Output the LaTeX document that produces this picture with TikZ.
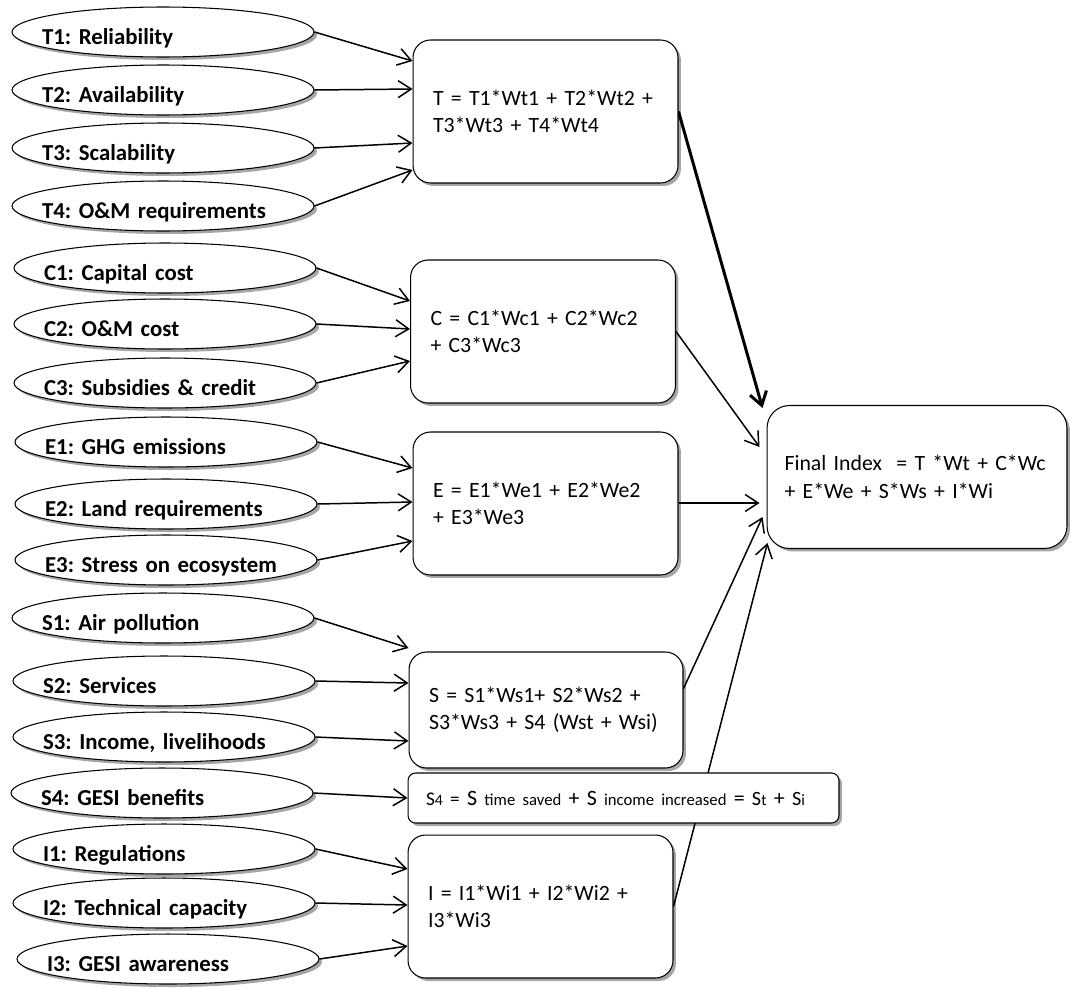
\documentclass[tikz,border=0pt]{standalone}
\usepackage{fontspec}
\setmainfont[WordSpace=0.8]{Carlito}
\usepackage{tikz}
\usetikzlibrary{shapes.geometric}
\usetikzlibrary{shadows}
\usetikzlibrary{calc}
\usetikzlibrary{arrows.meta}
\usetikzlibrary{backgrounds}
\newcommand\fsz[1]{\fontsize{#1}{#1}\selectfont}

\begin{document}
\frenchspacing
\begin{tikzpicture}[x=0.02cm, y=-0.02cm,
  shade/.style={drop shadow={shadow xshift=0.06cm, shadow yshift=-0.06cm, fill=black, opacity=0.35}},
  crit/.style={ellipse, draw, line width=0.6pt, fill=white, shade,
    minimum width=6.04cm, minimum height=1cm, inner xsep=-1.6cm, inner ysep=0pt,
    text width=4.84cm, align=left, font=\bfseries\fsz{13},
    text height=1.4em, text depth=0pt},
  formula/.style={draw, line width=0.6pt, fill=white, shade, rounded corners=0.35cm,
    minimum height=2.86cm, inner xsep=0.4cm, text width=4.5cm, align=left,
    font=\fontsize{12.4}{15.6}\selectfont},
  conn/.style={-{Straight Barb[length=2.6mm, width=3.4mm]}, line width=0.85pt}]
\useasboundingbox (0,0) rectangle (1070,987);

\node [crit] (t1) at (163,32) {T1: Reliability};
\node [crit] (t2) at (163,90) {T2: Availability};
\node [crit] (t3) at (163,148) {T3: Scalability};
\node [crit] (t4) at (163,206) {T4: O\&M requirements};
\node [crit] (c1) at (165,268) {C1: Capital cost};
\node [crit] (c2) at (165,324) {C2: O\&M cost};
\node [crit] (c3) at (165,383) {C3: Subsidies \& credit};
\node [crit] (e1) at (166,442) {E1: GHG emissions};
\node [crit] (e2) at (166,504) {E2: Land requirements};
\node [crit] (e3) at (166,560) {E3: Stress on ecosystem};
\node [crit] (s1) at (163,618) {S1: Air pollution};
\node [crit] (s2) at (164,681) {S2: Services};
\node [crit] (s3) at (164,737) {S3: Income, livelihoods};
\node [crit] (s4) at (162,793) {S4: GESI benefits};
\node [crit] (i1) at (164,849) {I1: Regulations};
\node [crit] (i2) at (164,903) {I2: Technical capacity};
\node [crit] (i3) at (168,959) {I3: GESI awareness};

\node [formula] (tb) at (545.5,111.5) {T = T1*Wt1 + T2*Wt2 +\\T3*Wt3 + T4*Wt4};
\node [formula] (cb) at (543,331.5) {C = C1*Wc1 + C2*Wc2\\+ C3*Wc3};
\node [formula] (eb) at (545.5,503.5) {E = E1*We1 + E2*We2\\+ E3*We3};
\node [formula, minimum height=2.32cm, text width=4.68cm] (sb) at (546,710)
  {S = S1*Ws1+ S2*Ws2 +\\S3*Ws3 + S4 (Wst + Wsi)};
\node [formula, minimum height=1cm, rounded corners=0.15cm, inner xsep=0.36cm, text width=7.9cm] (s4b) at (623.5,798)
  {{\fsz{11}S}{\fsz{9}4} {\fsz{11}=} {\fsz{12.5}S} {\fsz{9.5}time saved} {\fsz{12.5}+} {\fsz{12.5}S} {\fsz{9.5}income increased} {\fsz{12.5}=} {\fsz{11.5}S}{\fsz{9}t} {\fsz{12.5}+} {\fsz{11.5}S}{\fsz{9}i}};
\node [formula] (ib) at (540.5,906.5) {I = I1*Wi1 + I2*Wi2 +\\I3*Wi3};
\node [formula, rounded corners=0.45cm, inner xsep=0.35cm, text width=5.3cm] (fb) at (917,477)
  {Final Index~ = T *Wt + C*Wc\\+ E*We + S*Ws + I*Wi};

\begin{scope}[on background layer]
\draw [conn] (t1.east) -- ($(tb.west)+(0,-50.5)$);
\draw [conn] (t2.east) -- ($(tb.west)+(0,-22.5)$);
\draw [conn] (t3.east) -- ($(tb.west)+(0,31.5)$);
\draw [conn] (t4.east) -- ($(tb.west)+(0,58.5)$);
\draw [conn] (c1.east) -- ($(cb.west)+(0,-30.5)$);
\draw [conn] (c2.east) -- ($(cb.west)+(0,-2.5)$);
\draw [conn] (c3.east) -- ($(cb.west)+(0,29.5)$);
\draw [conn] (e1.east) -- ($(eb.west)+(0,-35.5)$);
\draw [conn] (e2.east) -- ($(eb.west)+(0,-1.5)$);
\draw [conn] (e3.east) -- ($(eb.west)+(0,37.5)$);
\draw [conn] (s1.east) -- ($(sb.west)+(0,-62)$);
\draw [conn] (s2.east) -- ($(sb.west)+(0,-27)$);
\draw [conn] (s3.east) -- ($(sb.west)+(0,31)$);
\draw [conn] (s4.east) -- (s4b.west);
\draw [conn] (i1.east) -- ($(ib.west)+(0,-37.5)$);
\draw [conn] (i2.east) -- ($(ib.west)+(0,-1.5)$);
\draw [conn] (i3.east) -- ($(ib.west)+(0,39.5)$);
\draw [conn, line width=1.7pt] (tb.east) -- ($(fb.west)+(-4,-69)$);
\draw [conn] (cb.east) -- ($(fb.west)+(-7,-30)$);
\draw [conn] ($(eb.east)+(0,-0.5)$) -- ($(fb.west)+(-7,26)$);
\draw [conn] ($(sb.east)+(0,-21.5)$) -- ($(fb.west)+(-4,40)$);
\draw [conn] (ib.east) -- ($(fb.west)+(1,66)$);
\end{scope}
\end{tikzpicture}
\end{document}
